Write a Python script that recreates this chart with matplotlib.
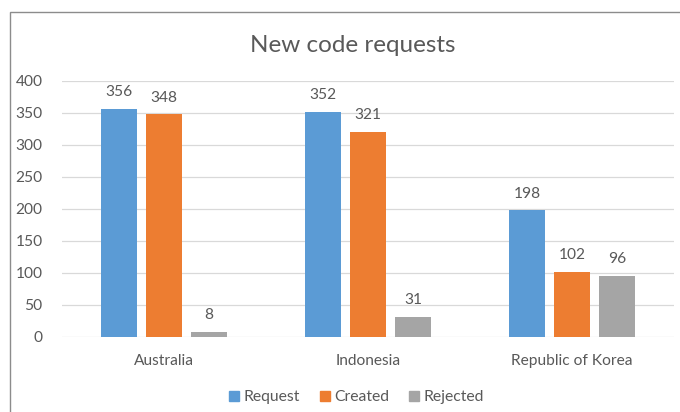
import matplotlib.pyplot as plt
import numpy as np
from matplotlib.patches import Rectangle
from matplotlib.lines import Line2D

plt.rcParams['font.family'] = ['Lato', 'DejaVu Sans']

categories = ['Australia', 'Indonesia', 'Republic of Korea']
series = ['Request', 'Created', 'Rejected']
request = [356, 352, 198]
created = [348, 321, 102]
rejected = [8, 31, 96]
colors = ['#5b9bd5', '#ed7d31', '#a5a5a5']
text_col = '#595959'

fig = plt.figure(figsize=(6.8, 4.12), dpi=100)
fig.patches.append(Rectangle((10 / 680, -0.1), 1.2, 1 - 12 / 412 + 0.1,
                             transform=fig.transFigure, fill=False,
                             edgecolor='#8c8c8c', linewidth=1.0))
ax = fig.add_axes([62 / 680, 1 - 337 / 412, 612 / 680, 256 / 412])

x = np.arange(len(categories))
w = 0.176
step = 0.221
for i, (vals, c) in enumerate(zip([request, created, rejected], colors)):
    pos = x + (i - 1) * step
    ax.bar(pos, vals, width=w, color=c, zorder=3)
    for p, v in zip(pos, vals):
        ax.annotate(str(v), (p, v), xytext=(0, 7), textcoords='offset points',
                    ha='center', va='bottom', fontsize=11.2, color=text_col)

ax.set_xlim(-0.5, 2.5)
ax.set_ylim(0, 400)
ax.set_yticks(range(0, 401, 50))
ax.set_xticks(x)
ax.set_xticklabels(categories)
ax.grid(axis='y', color='#d9d9d9', linewidth=0.9, zorder=0)
for s in ax.spines.values():
    s.set_visible(False)
ax.tick_params(length=0, labelsize=11.2, labelcolor=text_col)
ax.tick_params(axis='x', pad=12)
ax.tick_params(axis='y', pad=14)

fig.text(353 / 680, 1 - 45 / 412, 'New code requests', ha='center', va='center',
         fontsize=17.5, color=text_col)

handles = [Line2D([], [], marker='s', linestyle='none', markersize=7,
                  color=c) for c in colors]
fig.legend(handles, series, loc='center', bbox_to_anchor=(355 / 680, 1 - 397 / 412),
           ncol=3, frameon=False, fontsize=11.3, labelcolor=text_col,
           handletextpad=0.1, columnspacing=1.1, handlelength=1.0)

fig.savefig('out.png', dpi=100)
